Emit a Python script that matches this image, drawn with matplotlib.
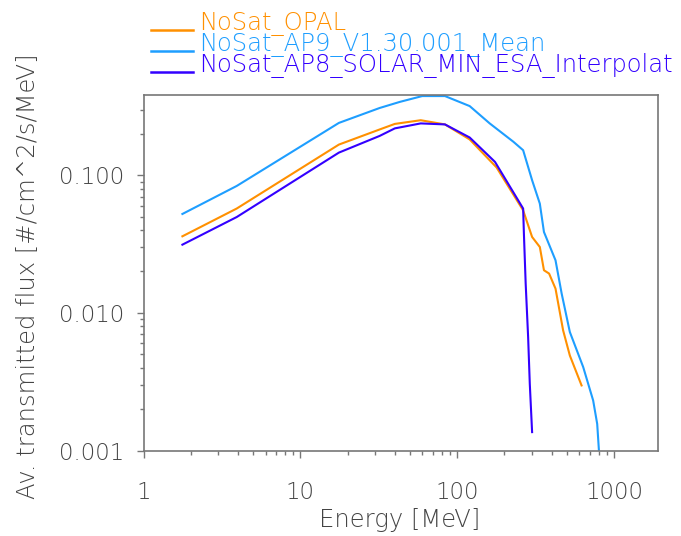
import matplotlib
matplotlib.use("Agg")
import matplotlib.pyplot as plt
from matplotlib.lines import Line2D
from matplotlib.ticker import LogLocator, FixedLocator, FixedFormatter, NullFormatter

# Energy [MeV] / flux values
energy_opal = [1.77, 3.93, 17.6, 32, 40, 58.5, 83.5, 120, 178, 263, 300, 336, 357, 385, 423, 473, 522, 620]
flux_opal = [0.036, 0.0573, 0.167, 0.215, 0.236, 0.251, 0.234, 0.182, 0.114, 0.0556, 0.0356, 0.0301,
             0.0204, 0.0193, 0.015, 0.00746, 0.0049, 0.00297]

energy_ap9 = [1.77, 3.93, 17.6, 32, 43, 59.8, 83.5, 120, 161, 228, 263, 300, 336, 357, 423, 463, 522,
              635, 735, 780, 800, 815]
flux_ap9 = [0.0523, 0.0836, 0.240, 0.308, 0.341, 0.376, 0.376, 0.318, 0.238, 0.175, 0.152, 0.092, 0.0622,
            0.0387, 0.0241, 0.0138, 0.00726, 0.00404, 0.00231, 0.00156, 0.0010, 0.0007]

energy_ap8 = [1.77, 3.93, 17.6, 32, 40, 58.5, 83.5, 120, 174, 263, 266, 273, 283, 290, 300]
flux_ap8 = [0.0313, 0.0497, 0.146, 0.193, 0.219, 0.238, 0.234, 0.188, 0.125, 0.0573, 0.0376, 0.0163,
            0.00667, 0.00305, 0.00136]

labels = ["NoSat_OPAL", "NoSat_AP9_V1.30.001_Mean", "NoSat_AP8_SOLAR_MIN_ESA_Interpolat"]
colors = ["#FF9000", "#1E9EFF", "#3300FF"]

x_ticks = [1, 10, 100, 1000]
x_ticklabels = ["1", "10", "100", "1000"]
y_ticks = [0.001, 0.01, 0.1]
y_ticklabels = ["0.001", "0.010", "0.100"]

W, H = 681, 536
text_col = "#444444"
frame_col = "#777777"

fig = plt.figure(figsize=(W / 100, H / 100), dpi=100)
# axes box in pixels: left 143.5, right 657.5, top 94.5, bottom 450.5
ax = fig.add_axes([143.5 / W, (H - 450.5) / H, (657.5 - 143.5) / W, (450.5 - 94.5) / H])

series = [(energy_opal, flux_opal), (energy_ap9, flux_ap9), (energy_ap8, flux_ap8)]
for (e, f), c in zip(series, colors):
    ax.plot(e, f, color=c, lw=1.5, solid_joinstyle="round")

ax.set_xscale("log")
ax.set_yscale("log")
ax.set_xlim(1, 1890)
ax.set_ylim(0.001, 0.386)

ax.xaxis.set_major_locator(FixedLocator(x_ticks))
ax.xaxis.set_major_formatter(FixedFormatter(x_ticklabels))
ax.yaxis.set_major_locator(FixedLocator(y_ticks))
ax.yaxis.set_major_formatter(FixedFormatter(y_ticklabels))
ax.xaxis.set_minor_locator(LogLocator(base=10, subs=range(2, 10)))
ax.yaxis.set_minor_locator(LogLocator(base=10, subs=range(2, 10)))
ax.xaxis.set_minor_formatter(NullFormatter())
ax.yaxis.set_minor_formatter(NullFormatter())

font = dict(family="DejaVu Sans", weight="light")
ax.tick_params(which="major", direction="out", length=5, width=1, color=frame_col,
               labelsize=16.5, labelcolor=text_col)
ax.tick_params(which="minor", direction="out", length=3, width=1, color=frame_col)
ax.tick_params(axis="x", which="major", pad=17)
ax.tick_params(axis="y", which="major", pad=9)
ax.tick_params(top=False, right=False)
for lab in ax.get_xticklabels() + ax.get_yticklabels():
    lab.set_fontweight("light")
for sp in ax.spines.values():
    sp.set_color(frame_col)
    sp.set_linewidth(1.2)

fig.text(400 / W, 1 - 520 / H, "Energy [MeV]", ha="center", va="center",
         fontsize=17.5, color=text_col, **font)
fig.text(28 / W, 1 - 276 / H, "Av. transmitted flux [#/cm^2/s/MeV]", ha="center", va="center",
         rotation=90, fontsize=17.5, color=text_col, **font)

# legend drawn by hand at the top, lines sitting on the text baseline
for i, (lab, c) in enumerate(zip(labels, colors)):
    y = 1 - (29.5 + 21.2 * i) / H
    fig.add_artist(Line2D([151 / W, 193 / W], [y, y], transform=fig.transFigure, color=c, lw=1.8))
    fig.text(199 / W, y, lab, ha="left", va="baseline", fontsize=17.5, color=c, **font)

fig.savefig("out.png", dpi=100)
